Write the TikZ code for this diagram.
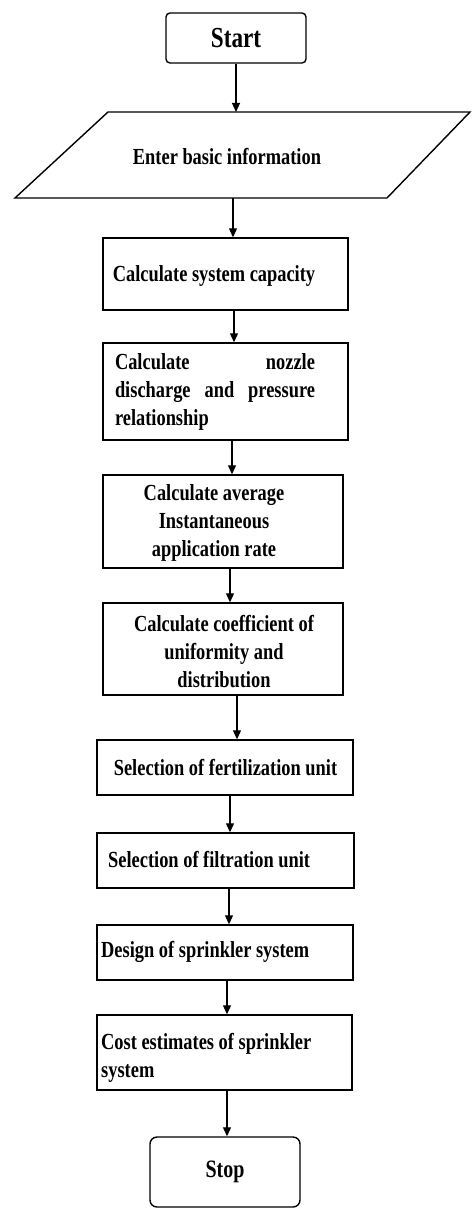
\documentclass[tikz,border=0pt]{standalone}
\usepackage{fontspec}
\setmainfont{Liberation Serif}[FakeStretch=0.8]
\usetikzlibrary{arrows.meta}
\begin{document}
\begin{tikzpicture}[x=1pt,y=-1pt,
  box/.style={draw, line width=1.4pt, inner sep=0pt},
  txt/.style={inner sep=0pt, font=\bfseries\fontsize{23}{28}\selectfont},
  arr/.style={line width=1.1pt, -{Triangle[length=9pt,width=8pt]}}]
\useasboundingbox (0,0) rectangle (472,1209);
% boxes
\node[box, rounded corners=4pt, minimum width=140pt, minimum height=50pt,
      font=\bfseries\fontsize{29}{32}\selectfont] (start) at (236,38) {Start};
\draw[line width=1.4pt] (108,112) -- (470,112) -- (387,198) -- (15,198) -- cycle;
\coordinate (paratop) at (236,112);
\coordinate (parabot) at (233,198);
\node[txt] (para) at (227,157) {Enter basic information};
\node[box, minimum width=245pt, minimum height=72pt] (b1) at (225.5,274) {};
\node[txt] (t1) at (214,276) {Calculate system capacity};
\node[box, minimum width=245pt, minimum height=97pt] (b2) at (225.5,391.5) {};
\node[txt, align=left] (t2) at (215,392)
  {\makebox[200pt][l]{Calculate\hfill nozzle}\\
   \makebox[200pt][l]{discharge\hfill and\hfill pressure}\\
   \makebox[200pt][l]{relationship}};
\node[box, minimum width=240pt, minimum height=93pt] (b3) at (223,521.5) {};
\node[txt, align=center] (t3) at (214,523)
  {Calculate average\\Instantaneous\\application rate};
\node[box, minimum width=240pt, minimum height=92pt] (b4) at (223,649) {};
\node[txt, align=center] (t4) at (224,652)
  {Calculate coefficient of\\uniformity and\\distribution};
\node[box, minimum width=256pt, minimum height=55pt] (b5) at (225,767.5) {};
\node[txt] (t5) at (225.5,768) {Selection of fertilization unit};
\node[box, minimum width=257pt, minimum height=55pt] (b6) at (225.5,860.5) {};
\node[txt, anchor=west] (t6) at (108,860) {Selection of filtration unit};
\node[box, minimum width=256pt, minimum height=55pt] (b7) at (225,952.5) {};
\node[txt, anchor=west] (t7) at (101,952) {Design of sprinkler system};
\node[box, minimum width=255pt, minimum height=75pt] (b8) at (224.5,1052.5) {};
\node[txt, align=left, anchor=west] (t8) at (101,1058)
  {Cost estimates of sprinkler\\system};
\node[box, rounded corners=7pt, minimum width=150pt, minimum height=70pt,
      font=\bfseries\fontsize{25}{28}\selectfont] (stop) at (225,1172) {Stop};
% connectors
\draw[arr] (start.south) -- (paratop);
\draw[arr] (parabot) -- (parabot |- b1.north);
\draw[arr] (b1.south -| 234,0) -- (b2.north -| 234,0);
\draw[arr] (b2.south -| 232,0) -- (b3.north -| 232,0);
\draw[arr] (b3.south -| 230,0) -- (b4.north -| 230,0);
\draw[arr] (b4.south -| 237,0) -- (b5.north -| 237,0);
\draw[arr] (b5.south -| 230,0) -- (b6.north -| 230,0);
\draw[arr] (b6.south -| 229,0) -- (b7.north -| 229,0);
\draw[arr] (b7.south -| 227,0) -- (b8.north -| 227,0);
\draw[arr] (b8.south -| 227,0) -- (stop.north -| 227,0);
\end{tikzpicture}
\end{document}
